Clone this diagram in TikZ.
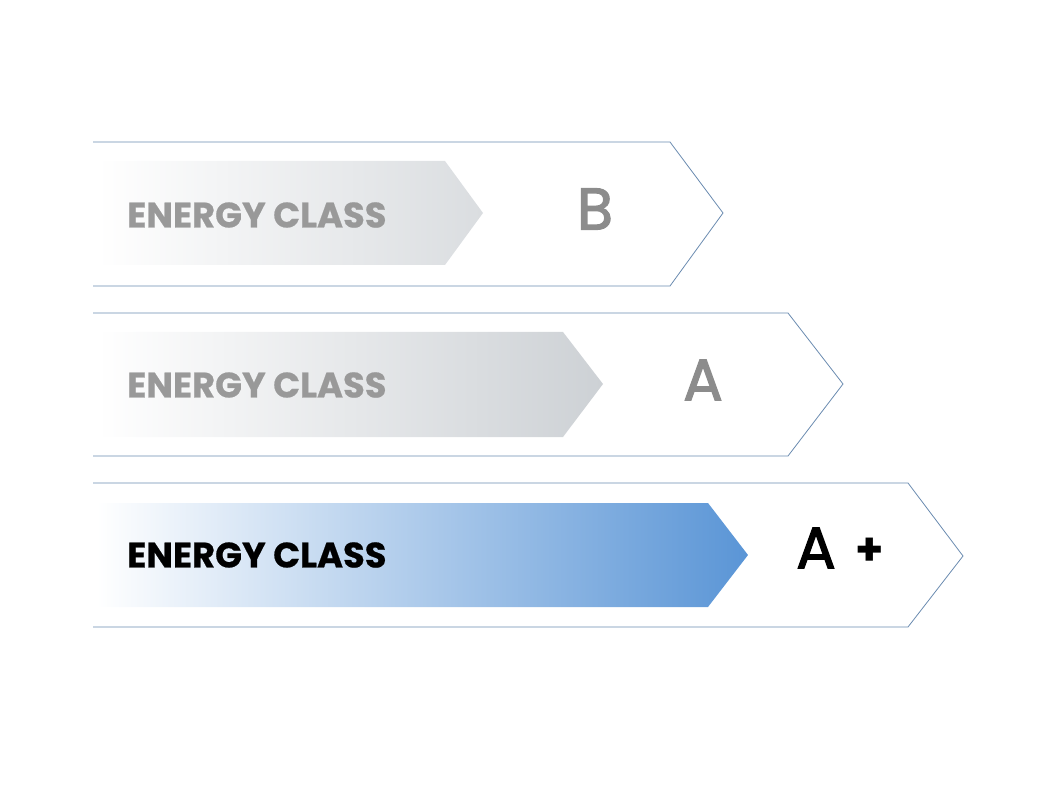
\documentclass[tikz,border=0pt]{standalone}
\usepackage{fontspec}
\newfontfamily\labelfont{Poppins}[UprightFont=*-Bold,FakeBold=0.6]
\newfontfamily\letterfont{Poppins}[FakeBold=2.2]
\newfontfamily\plusfont{Poppins}[UprightFont=*-Bold]
\definecolor{outline}{HTML}{6A8BB0}
\definecolor{greytext}{HTML}{999999}
\definecolor{lettergrey}{HTML}{8C8C8C}
\definecolor{greyA}{HTML}{DADDE0}
\definecolor{greyB}{HTML}{CDD1D5}
\definecolor{blueC}{HTML}{5A95D6}
\tikzset{
  outer/.style={draw=outline, line width=0.6pt, line join=miter},
  lbl/.style={anchor=west, inner sep=0pt, font=\labelfont\fontsize{26.5}{26.5}\selectfont},
  grade/.style={inner sep=0pt, font=\letterfont\fontsize{44}{44}\selectfont},
}
\begin{document}
\begin{tikzpicture}[x=0.75pt,y=-0.75pt]
\useasboundingbox (0,0) rectangle (1064,809);
% Row 1 (B)
\draw[outer] (93,142) -- (670,142) -- (723,213) -- (670,286) -- (93,286);
\shade[left color=white, right color=greyA] (97,161) -- (445,161) -- (483,213) -- (445,265) -- (97,265) -- cycle;
\node[lbl, text=greytext] (l1) at (127,215) {ENERGY CLASS};
\node[grade, text=lettergrey] (g1) at (595,209) {B};
% Row 2 (A)
\draw[outer] (93,313) -- (788,313) -- (843,384) -- (788,456) -- (93,456);
\shade[left color=white, right color=greyB] (97,332) -- (563,332) -- (603,384) -- (563,437) -- (97,437) -- cycle;
\node[lbl, text=greytext] (l2) at (127,385) {ENERGY CLASS};
\node[grade, text=lettergrey] (g2) at (703,380) {A};
% Row 3 (A+)
\draw[outer] (93,483) -- (908,483) -- (963,556) -- (908,627) -- (93,627);
\shade[left color=white, right color=blueC] (97,503) -- (708,503) -- (748,555) -- (708,607) -- (97,607) -- cycle;
\node[lbl, text=black] (l3) at (127,555) {ENERGY CLASS};
\node[grade, text=black] (g3) at (816,548) {A};
\node[inner sep=0pt, font=\plusfont\fontsize{34}{34}\selectfont] (p3) at (870,552) {+};
\end{tikzpicture}
\end{document}
